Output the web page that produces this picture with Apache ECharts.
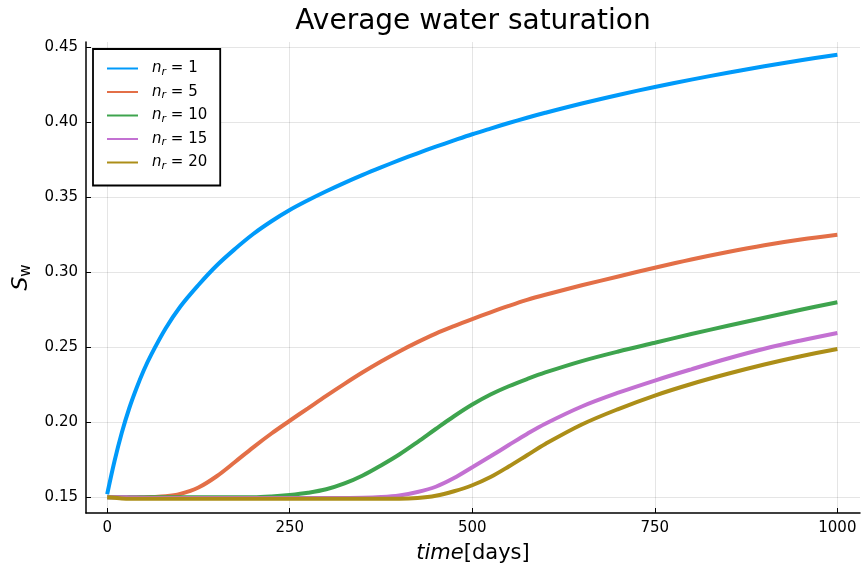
<!DOCTYPE html>
<html>
<head>
<meta charset="utf-8">
<title>Average water saturation</title>
<script src="https://cdn.jsdelivr.net/npm/echarts@6/dist/echarts.min.js"></script>
<style>
  html, body { margin: 0; padding: 0; background: #ffffff; }
  #chart { width: 861px; height: 571px; }
</style>
</head>
<body>
<div id="chart"></div>
<script>
// time axis (days), shared by all curves
const days = [0, 10, 20, 30, 40, 50, 60, 80, 100, 125, 150, 175, 200, 225, 250, 275, 300, 325, 350, 375,
  400, 425, 450, 475, 500, 525, 550, 575, 600, 650, 700, 750, 800, 850, 900, 950, 1000];

// average water saturation
const sw_nr1 = [0.152, 0.174, 0.193, 0.209, 0.2225, 0.2345, 0.2448, 0.2625, 0.277, 0.2915, 0.3045, 0.3155, 0.3255, 0.334, 0.3415, 0.348, 0.354, 0.3596, 0.3649, 0.3699,
  0.3747, 0.3793, 0.3837, 0.3879, 0.392, 0.3958, 0.3995, 0.403, 0.4063, 0.4125, 0.4182, 0.4235, 0.4284, 0.433, 0.4373, 0.4413, 0.445];
const sw_nr5 = [0.150, 0.150, 0.150, 0.150, 0.150, 0.150, 0.1501, 0.1506, 0.1522, 0.1565, 0.164, 0.1735, 0.1833, 0.1925, 0.201, 0.2093, 0.2176, 0.2256, 0.2333, 0.2405,
  0.2472, 0.2534, 0.2591, 0.2641, 0.2688, 0.2733, 0.2776, 0.2816, 0.285, 0.2913, 0.2972, 0.303, 0.3085, 0.3135, 0.318, 0.3218, 0.325];
const sw_nr10 = [0.150, 0.150, 0.150, 0.150, 0.150, 0.150, 0.150, 0.150, 0.150, 0.150, 0.150, 0.150, 0.150, 0.1505, 0.1515, 0.153, 0.1553, 0.1592, 0.1645, 0.1712,
  0.1785, 0.1868, 0.1955, 0.204, 0.2118, 0.2185, 0.224, 0.2288, 0.2332, 0.2408, 0.2472, 0.253, 0.2588, 0.2643, 0.2697, 0.275, 0.280];
const sw_nr15 = [0.150, 0.150, 0.150, 0.1499, 0.1498, 0.1496, 0.1495, 0.1495, 0.1495, 0.1495, 0.1495, 0.1495, 0.1495, 0.1495, 0.1495, 0.1495, 0.1495, 0.1495, 0.1496, 0.1501,
  0.1512, 0.1535, 0.157, 0.1628, 0.170, 0.1773, 0.1848, 0.1922, 0.199, 0.2105, 0.2197, 0.2278, 0.2353, 0.2425, 0.249, 0.2545, 0.2595];
const sw_nr20 = [0.150, 0.1496, 0.1492, 0.149, 0.149, 0.149, 0.149, 0.149, 0.149, 0.149, 0.149, 0.149, 0.149, 0.149, 0.149, 0.149, 0.149, 0.149, 0.149, 0.149,
  0.149, 0.1495, 0.151, 0.154, 0.158, 0.1635, 0.1705, 0.178, 0.1855, 0.1985, 0.2088, 0.2178, 0.2255, 0.2323, 0.2385, 0.244, 0.2488];

const seriesNames = ['n_r = 1', 'n_r = 5', 'n_r = 10', 'n_r = 15', 'n_r = 20'];
const seriesValues = [sw_nr1, sw_nr5, sw_nr10, sw_nr15, sw_nr20];

const xTicks = [0, 250, 500, 750, 1000];
const yTicks = [0.15, 0.20, 0.25, 0.30, 0.35, 0.40, 0.45];

// Plots.jl default palette
const colors = ['#009AFA', '#E36F47', '#3EA44E', '#C371D2', '#AC8E18'];
const FONT = 'DejaVu Sans';

const chart = echarts.init(document.getElementById('chart'));

const series = seriesNames.map((name, i) => ({
  name: name,
  type: 'line',
  data: days.map((d, j) => [d, seriesValues[i][j]]),
  showSymbol: false,
  symbol: 'none',
  smooth: 0.35,
  lineStyle: { color: colors[i], width: 4 },
  itemStyle: { color: colors[i] },
  z: 2 + i
}));

chart.setOption({
  animation: false,
  backgroundColor: '#ffffff',
  textStyle: { fontFamily: FONT },
  title: {
    text: 'Average water saturation',
    left: 468,
    textAlign: 'center',
    top: 3,
    textStyle: { fontFamily: FONT, fontSize: 28, fontWeight: 'normal', color: '#000' }
  },
  legend: {
    left: 93,
    top: 49,
    orient: 'vertical',
    backgroundColor: '#fff',
    borderColor: '#000',
    borderWidth: 1.8,
    borderRadius: 0,
    padding: [12, 13, 14, 14],
    icon: 'rect',
    itemWidth: 31,
    itemHeight: 2,
    itemGap: 7,
    data: seriesNames,
    formatter: name => '{n|n}{r|r}{e| = ' + name.split('= ')[1] + '}',
    textStyle: {
      padding: [0, 0, 0, 9],
      rich: {
        n: { fontFamily: FONT, fontStyle: 'italic', fontSize: 15, color: '#000', lineHeight: 18, verticalAlign: 'middle' },
        r: { fontFamily: FONT, fontStyle: 'italic', fontSize: 11, color: '#000', lineHeight: 11, verticalAlign: 'bottom' },
        e: { fontFamily: FONT, fontSize: 15, color: '#000', lineHeight: 18, verticalAlign: 'middle' }
      }
    }
  },
  grid: { left: 86, right: 1, top: 42, bottom: 58, containLabel: false },
  xAxis: {
    type: 'value',
    min: -29,
    max: 1031,
    name: '{i|time}{t|[days]}',
    nameLocation: 'middle',
    nameGap: 30,
    nameTextStyle: {
      rich: {
        i: { fontFamily: FONT, fontStyle: 'italic', fontSize: 21, color: '#000' },
        t: { fontFamily: FONT, fontSize: 21, color: '#000' }
      }
    },
    axisLine: { show: true, onZero: false, lineStyle: { color: '#000', width: 1.5 } },
    axisTick: { show: true, inside: true, length: 5, customValues: xTicks, lineStyle: { color: '#000' } },
    axisLabel: {
      customValues: xTicks,
      fontFamily: FONT, fontSize: 15, color: '#000', margin: 8,
      formatter: v => String(v)
    },
    splitLine: { show: true, lineStyle: { color: 'rgba(0,0,0,0.1)', width: 1 } }
  },
  yAxis: {
    type: 'value',
    min: 0.1395,
    max: 0.4535,
    name: '{s|S}{w|w}',
    nameLocation: 'middle',
    nameGap: 49,
    nameRotate: 90,
    nameTextStyle: {
      rich: {
        s: { fontFamily: FONT, fontStyle: 'italic', fontSize: 22, color: '#000', lineHeight: 24, verticalAlign: 'middle' },
        w: { fontFamily: FONT, fontSize: 15, color: '#000', lineHeight: 14, verticalAlign: 'bottom' }
      }
    },
    axisLine: { show: true, onZero: false, lineStyle: { color: '#000', width: 1.5 } },
    axisTick: { show: true, inside: true, length: 5, customValues: yTicks, lineStyle: { color: '#000' } },
    axisLabel: {
      customValues: yTicks,
      fontFamily: FONT, fontSize: 15, color: '#000', margin: 8,
      formatter: v => v.toFixed(2)
    },
    splitLine: { show: true, lineStyle: { color: 'rgba(0,0,0,0.1)', width: 1 } }
  },
  series: series
});
</script>
</body>
</html>
